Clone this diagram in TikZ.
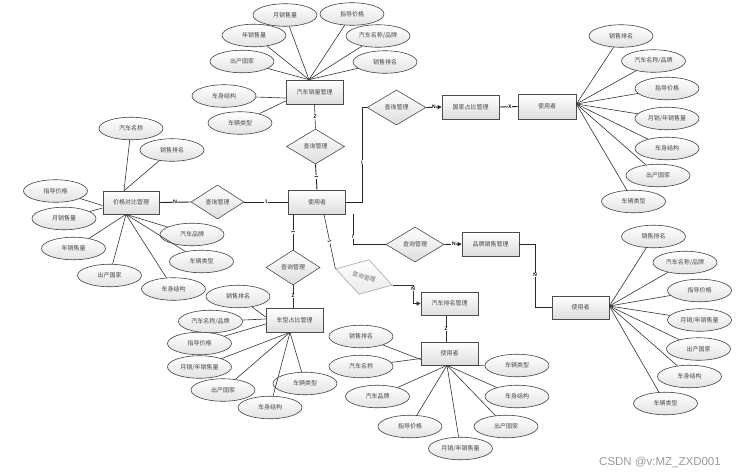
\documentclass[tikz,border=0pt]{standalone}
\usepackage{fontspec}
\newfontfamily\cjk{Noto Sans CJK SC}
\newfontfamily\wmfont{Liberation Sans}
\usetikzlibrary{shapes.geometric,arrows.meta,shadows}
\begin{document}
\begin{tikzpicture}[x=1pt,y=-1pt,
  txt/.style={font=\cjk\fontsize{6}{7}\selectfont, text=black!72},
  ent/.style={txt, rectangle, draw=black!70, line width=0.7pt, top color=white, bottom color=black!13,
    minimum width=57pt, minimum height=24pt, inner sep=0pt,
    drop shadow={shadow xshift=0.8pt, shadow yshift=-0.8pt, opacity=0.35, fill=black!50}},
  attr/.style={txt, ellipse, draw=black!75, line width=0.6pt, top color=white, bottom color=black!11,
    minimum width=64pt, minimum height=22.5pt, inner sep=0pt},
  rel/.style={txt, diamond, draw=black!70, line width=0.6pt, top color=white, bottom color=black!13,
    minimum width=58pt, minimum height=35pt, inner sep=0pt},
  relpale/.style={txt, diamond, draw=black!35, line width=0.6pt, top color=white, bottom color=black!8,
    minimum width=59pt, minimum height=36pt, inner sep=0pt, text=black!55},
  ln/.style={draw=black!80, line width=0.6pt},
  main/.style={draw=black!85, line width=0.9pt},
  arr/.style={-{Triangle[length=4pt,width=4pt]}},
  card/.style={font=\sffamily\bfseries\fontsize{5}{5}\selectfont, inner sep=0.4pt, fill=white, text=black}
]
\useasboundingbox (0,0) rectangle (736,474);

% ---------- top cluster ----------
\node[ent] (r1) at (314.5,92) {汽车销量管理};
\node[attr] (a1) at (285,15) {月销售量};
\node[attr] (a2) at (352,14) {指导价格};
\node[attr] (a3) at (254,35.5) {年销售量};
\node[attr] (a4) at (378,36) {汽车名称/品牌};
\node[attr] (a5) at (242,61.5) {出产国家};
\node[attr] (a6) at (385,62) {销售排名};
\node[attr] (a7) at (224,96) {车身结构};
\node[attr] (a8) at (240,123) {车辆类型};
\coordinate (r1f) at ([xshift=-5.5pt]r1.north);
\foreach \e in {a1,a2,a3,a4,a5,a6} \draw[ln] (r1f) -- (\e);
\draw[ln] (a7) -- ([yshift=-6pt]r1.west);
\draw[ln] (a8) -- ([yshift=-9pt]r1.west);

\node[rel] (d1) at (315.5,146.5) {查询管理};
\node[ent] (c0) at (317,202) {使用者};
\draw[ln] (r1.south) -- node[card,pos=0.52] {Z} (d1.north);
\draw[main] (d1.south) -- node[card,pos=0.5,rotate=90] {1} (c0.north);

% ---------- left cluster ----------
\node[rel, minimum width=53pt, minimum height=34pt] (d2) at (217.5,202) {查询管理};
\node[ent, minimum width=56pt, minimum height=23pt] (r2) at (131,202.5) {价格对比管理};
\draw[main] (c0.west) -- node[card,pos=0.5] {1} (d2.east);
\draw[main] (d2.west) -- node[card,pos=0.5] {N} (r2.east);
\node[attr] (b1) at (131,128.5) {汽车名称};
\node[attr] (b2) at (172,150) {销售排名};
\node[attr] (b3) at (55.5,191) {指导价格};
\node[attr] (b4) at (64,218.5) {月销售量};
\node[attr] (b5) at (73.5,248.5) {年销售量};
\node[attr] (b6) at (109.5,275.5) {出产国家};
\node[attr] (b7) at (173.5,289) {车身结构};
\node[attr] (b8) at (192,234.5) {汽车品牌};
\node[attr] (b9) at (201.5,261.5) {车辆类型};
\coordinate (r2t) at ([xshift=-7pt]r2.north);
\coordinate (r2b) at ([xshift=-5pt]r2.south);
\draw[ln] (r2t) -- (b1);
\draw[ln] (r2t) -- (b2);
\draw[ln] (b3) -- ([yshift=-3pt]r2.west);
\draw[ln] (b4) -- ([yshift=-5.5pt]r2.west);
\foreach \e in {b5,b6,b7,b8,b9} \draw[ln] (r2b) -- (\e);

% ---------- top right ----------
\node[rel, minimum width=59pt] (d3) at (396.5,107.5) {查询管理};
\node[ent] (r3) at (470.5,107) {国家占比管理};
\node[ent, minimum width=58pt, minimum height=25pt] (u1) at (547,106.5) {使用者};
\coordinate (k1) at (362,107.5);
\draw[main] (c0.east) -| node[card,pos=0.71] {I} (k1) -- (d3.west);
\draw[main,arr] (d3.east) -- node[card,pos=0.5] {N} (r3.west);
\draw[main] (r3.east) -- node[card,pos=0.58] {X} (u1.west);
\node[attr] (g1) at (621,36) {销售排名};
\node[attr] (g2) at (653.5,61) {汽车名称/品牌};
\node[attr] (g3) at (667,88.5) {指导价格};
\node[attr] (g4) at (667,118.5) {月销/年销售量};
\node[attr] (g5) at (667,148.5) {车身结构};
\node[attr] (g6) at (658,175.5) {出产国家};
\node[attr] (g7) at (633.5,201.5) {车辆类型};
\coordinate (u1f) at ([yshift=2.5pt]u1.east);
\foreach \e in {g1,g2,g3,g4,g5,g6,g7} \draw[ln] (u1f) -- (\e);

% ---------- lower right ----------
\node[rel] (d4) at (415,244.5) {查询管理};
\node[ent] (r4) at (490.5,244) {品牌销售管理};
\node[ent, minimum height=23pt] (u2) at (580.5,307.5) {使用者};
\draw[main] ([xshift=36pt]c0.south) |- node[card,pos=0.375] {I} (d4.west);
\draw[main,arr] (d4.east) -- node[card,pos=0.55] {N} (r4.west);
\coordinate (q4) at (535,244);
\draw[main] (r4.east) -- (q4) |- node[card,pos=0.245] {N} (u2.west);
\node[attr] (h1) at (653.5,236.5) {销售排名};
\node[attr] (h2) at (685,262.5) {汽车名称/品牌};
\node[attr] (h3) at (699.5,290.5) {指导价格};
\node[attr] (h4) at (699.5,320) {月销/年销售量};
\node[attr] (h5) at (698.5,349) {出产国家};
\node[attr] (h6) at (689.5,376.5) {车身结构};
\node[attr] (h7) at (665.5,403.5) {车辆类型};
\coordinate (u2f) at ([yshift=1.5pt]u2.east);
\foreach \e in {h1,h2,h3,h4,h5,h6,h7} \draw[ln] (u2f) -- (\e);

% ---------- bottom left ----------
\node[rel, minimum width=54pt] (d5) at (293,267.5) {查询管理};
\node[ent] (r5) at (294.5,320) {车型占比管理};
\draw[main] ([xshift=-24pt]c0.south) -- node[card,pos=0.5,rotate=90] {1} (d5.north);
\draw[ln] (d5.south) -- node[card,pos=0.48] {Z} ([xshift=-1.5pt]r5.north);
\node[attr] (k1a) at (238,296.5) {销售排名};
\node[attr] (k2) at (210.5,321.5) {汽车名称/品牌};
\node[attr] (k3) at (199.5,343.5) {指导价格};
\node[attr] (k4) at (199.5,367) {月销/年销售量};
\node[attr] (k5) at (223,390) {出产国家};
\node[attr] (k6) at (270,407.5) {车身结构};
\node[attr] (k7) at (305,383.5) {车辆类型};
\coordinate (r5f) at ([xshift=-4.5pt]r5.south);
\draw[ln] (k1a) -- ([yshift=3pt]r5.west);
\draw[ln] (k2) -- ([yshift=1pt]r5.west);
\draw[ln] (k3) -- ([yshift=-4pt]r5.west);
\foreach \e in {k4,k5,k6,k7} \draw[ln] (r5f) -- (\e);

% ---------- bottom middle ----------
\node[relpale, rotate=-16] (d6) at (364,277) {查询管理};
\node[ent, minimum height=23pt] (r6) at (449.5,303.5) {汽车排名管理};
\node[ent, minimum height=23pt] (u3) at (449.5,353.5) {使用者};
\draw[ln] ([xshift=7pt]c0.south) -- node[card,pos=0.5,sloped] {1} (d6.west);
\coordinate (m6c) at (413,303.5);
\draw[ln,arr] (d6.east) -| node[card,pos=0.6] {N} (m6c) -- (r6.west);
\draw[ln] ([xshift=-3.5pt]r6.south) -- node[card,pos=0.52] {Z} ([xshift=-3.5pt]u3.north);
\node[attr] (n1) at (361,336.5) {销售排名};
\node[attr] (n2) at (361,366.5) {汽车名称};
\node[attr] (n3) at (377.5,396.5) {汽车品牌};
\node[attr] (n4) at (410,426.5) {指导价格};
\node[attr] (n5) at (460.5,448.5) {月销/年销售量};
\node[attr] (n6) at (506,426.5) {出产国家};
\node[attr] (n7) at (517,396.5) {车身结构};
\node[attr] (n8) at (517,365.5) {车辆类型};
\coordinate (u3f) at ([xshift=-2.5pt]u3.south);
\draw[ln] (n1) -- ([yshift=-6pt]u3.west);
\draw[ln] (n2) -- ([yshift=-5pt]u3.west);
\foreach \e in {n3,n4,n5,n6,n7,n8} \draw[ln] (u3f) -- (\e);

% ---------- watermark ----------
\node[font=\wmfont\fontsize{11.5}{12}\selectfont, text=black!40, inner sep=0pt] (wm) at (660,462) {CSDN @v:MZ\_ZXD001};
\end{tikzpicture}
\end{document}
